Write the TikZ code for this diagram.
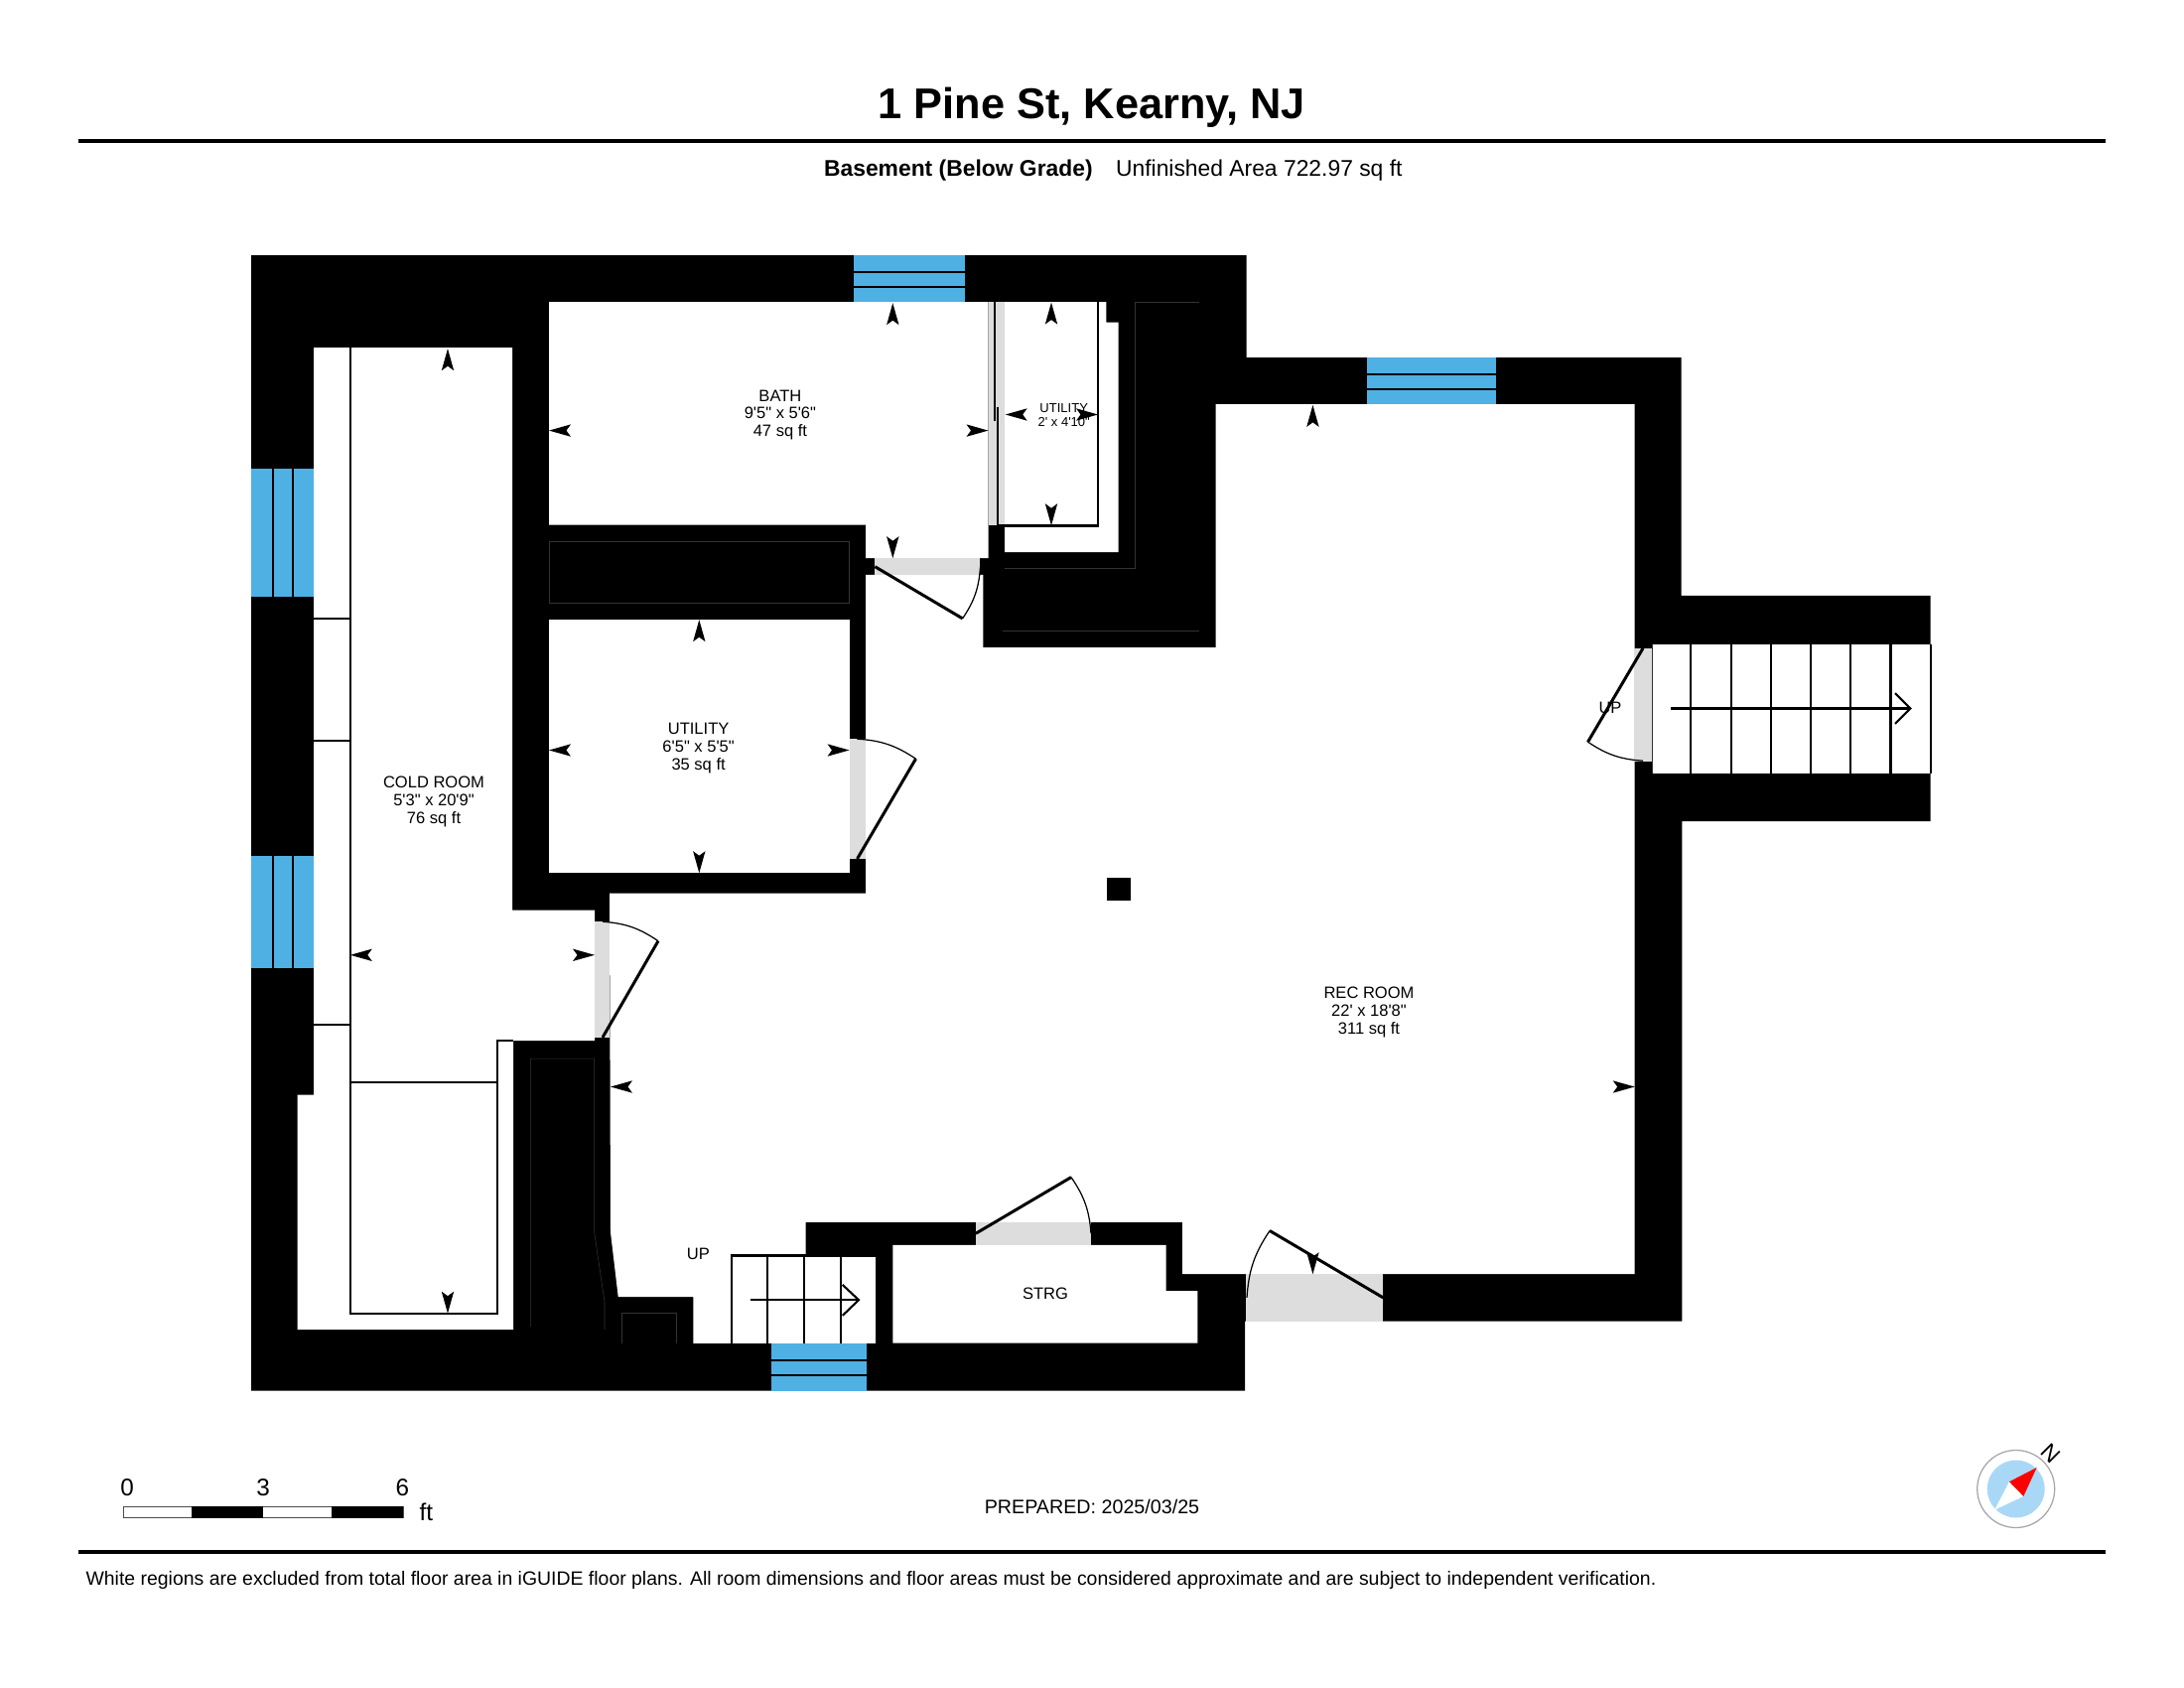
\documentclass[tikz,border=0pt]{standalone}
\usepackage{fontspec}
\setmainfont[Ligatures=TeXOff]{Liberation Sans}

\definecolor{windowblue}{HTML}{4FB0E3}
\definecolor{doorgrey}{HTML}{DDDDDD}
\definecolor{compassblue}{HTML}{A9D8F6}

\tikzset{
	wallfill/.style={fill=black},
	roomfill/.style={fill=white},
	windowfill/.style={fill=windowblue},
	dooropening/.style={fill=doorgrey},
	doorleaf/.style={line width=0.85pt},
	doorarc/.style={line width=0.35pt},
	roomline/.style={line width=0.6pt},
	hairline/.style={line width=0.15pt,draw=black!80},
	roomtext/.style={inner sep=0pt,align=center,font=\fontsize{4.7pt}{5.09pt}\selectfont},
	smalltext/.style={inner sep=0pt,align=center,font=\fontsize{3.7pt}{4.15pt}\selectfont},
	basetext/.style={inner sep=0pt,anchor=base,font=\fontsize{5.6pt}{6pt}\selectfont},
	scaletext/.style={inner sep=0pt,font=\fontsize{6.9pt}{8pt}\selectfont}
}

% tip at (x,y), last argument is the direction in degrees
\newcommand{\dimtip}[3]{\fill[shift={(#1,#2)},rotate=#3] (0,0) -- (-22,-6.2) -- (-17.5,0) -- (-22,6.2) -- cycle;}

\begin{document}
\begin{tikzpicture}[x=0.01cm,y=-0.01cm]
	\useasboundingbox (0,-1.2) rectangle (2200,1698.8);

	% heading
	\node (title) at (1100,118) [inner sep=0pt,anchor=base,font=\fontsize{12.32pt}{14pt}\selectfont\bfseries] {1 Pine St, Kearny, NJ};
	\draw[line width=1.15pt] (79,141) -- (2121,141);
	\node (level) at (829.4,176.7) [inner sep=0pt,anchor=base west,font=\fontsize{6.5pt}{8pt}\selectfont\bfseries] {Basement (Below Grade)};
	\node (area) at (1123.4,176.7) [inner sep=0pt,anchor=base west,font=\fontsize{6.5pt}{8pt}\selectfont] {Unfinished Area 722.97 sq ft};

	% walls
	\fill[wallfill] (253,256) -- (1255.5,256) -- (1255.5,359) -- (1693.5,359) -- (1693.5,598.7) -- (1944.7,598.7) -- (1944.7,826) -- (1694.3,826) -- (1694.3,1329.3) -- (1254,1329.3) -- (1254,1399.3) -- (253,1399.3) -- cycle;

	% rooms
	\fill[roomfill] (316,349) -- (516,349) -- (516,915.5) -- (599,915.5) -- (599,1047) -- (517,1047) -- (517,1338) -- (299.7,1338) -- (299.7,1101.4) -- (316,1101.4) -- cycle;
	\fill[roomfill] (553,303) -- (995.5,303) -- (995.5,561) -- (872,561) -- (872,527.5) -- (553,527.5) -- cycle;
	\fill[roomfill] (553,623) rectangle (855.5,878);
	\fill[roomfill] (1012,303) -- (1114.3,303) -- (1114.3,323.3) -- (1126.7,323.3) -- (1126.7,555) -- (1012,555) -- cycle;
	\fill[roomfill] (1224.5,406) -- (1646.5,406) -- (1646.5,1282) -- (1191,1282) -- (1191,1229.7) -- (811.5,1229.7) -- (811.5,1263) -- (737.4,1263) -- (737.4,1351.6) -- (698.3,1351.6) -- (698.3,1304.8) -- (622.7,1304.8) -- (615,1240) -- (614,898.5) -- (872,898.5) -- (872,577.7) -- (990.3,577.7) -- (990.3,651) -- (1224.5,651) -- cycle;
	\fill[roomfill] (899.3,1252.6) -- (1174.5,1252.6) -- (1174.5,1298.8) -- (1206.4,1298.8) -- (1206.4,1351.5) -- (899.3,1351.5) -- cycle;
	\fill[roomfill] (737.4,1263) rectangle (881.7,1351.6);
	\fill[roomfill] (1664,647.3) rectangle (1944.7,777.7);
	\fill[wallfill] (1114.9,882.4) rectangle (1138.7,906);

	% lines inside the walls
	\draw[hairline] (553,544) rectangle (855,606);
	\draw[hairline] (1012,571) -- (1143.3,571) -- (1143.3,303) -- (1207.7,303);
	\draw[hairline] (1010,634.3) -- (1207.7,634.3);
	\draw[hairline] (534.7,1335) -- (534.7,1065) -- (598.7,1065) -- (598.7,1240) -- (609,1310) -- (609,1338);
	\draw[hairline] (626.7,1351.7) -- (626.7,1321) -- (681.7,1321) -- (681.7,1351.7);

	% windows
	\fill[windowfill] (860,256) rectangle (972,303);
	\foreach \y in {273,288} \draw[roomline] (860,\y) -- (972,\y);
	\fill[windowfill] (1377,359) rectangle (1506.5,406);
	\foreach \y in {375.7,391} \draw[roomline] (1377,\y) -- (1506.5,\y);
	\fill[windowfill] (777,1351.5) rectangle (873,1399.3);
	\foreach \y in {1369,1383.7} \draw[roomline] (777,\y) -- (873,\y);
	\fill[windowfill] (253,471) rectangle (316,600);
	\foreach \x in {275,295} \draw[roomline] (\x,471) -- (\x,600);
	\fill[windowfill] (253,861) rectangle (316,974);
	\foreach \x in {275,295} \draw[roomline] (\x,861) -- (\x,974);

	% door openings
	\fill[dooropening] (995.5,303) rectangle (1012,527.5);
	\fill[dooropening] (881,561) rectangle (987.3,577.7);
	\fill[dooropening] (855.5,743) rectangle (872,864);
	\fill[dooropening] (599,927) rectangle (614,1043.6);
	\fill[dooropening] (983,1229.7) rectangle (1099,1252.6);
	\fill[dooropening] (1255,1282) rectangle (1393.3,1329.3);
	\fill[dooropening] (1646,651.7) rectangle (1663.7,766);

	% door leaves
	\draw[doorleaf] (881.4,569.5) -- (969.6,621.7);
	\draw[doorarc] (969.6,621.7) to[bend right=15] (987.5,569.5);
	\draw[doorleaf] (863.5,863.7) -- (922.5,763);
	\draw[doorarc] (922.5,763) to[bend right=15] (863.5,743);
	\draw[doorleaf] (607,1043.6) -- (663,946.5);
	\draw[doorarc] (663,946.5) to[bend right=15] (607,927);
	\draw[doorleaf] (983,1241) -- (1079,1184.4);
	\draw[doorarc] (1099,1241) to[bend right=15] (1079,1184.4);
	\draw[doorleaf] (1393.3,1305.7) -- (1279,1238.3);
	\draw[doorarc] (1279,1238.3) to[bend right=15] (1256,1305.7);
	\draw[doorleaf] (1655,651.7) -- (1599.5,746);
	\draw[doorarc] (1599.5,746) to[bend right=15] (1655,765);

	% cold room lines
	\draw[roomline] (353,349) -- (353,1321.5) -- (501,1321.5) -- (501,1047) -- (517,1047);
	\draw[roomline] (353,1088.7) -- (501,1088.7);
	\foreach \y in {622,745,1030.8} \draw[roomline] (316,\y) -- (353,\y);

	% utility closet lines
	\draw[roomline] (1001.7,303) -- (1001.7,422.7);
	\draw[roomline] (1005,409) -- (1005,528.3) -- (1106.3,528.3) -- (1106.3,303);

	% stairs
	\draw[roomline] (737.4,1351.6) -- (737.4,1263.3) -- (881.7,1263.3);
	\foreach \x in {773.3,809.7,846.7} \draw[roomline] (\x,1263.3) -- (\x,1351.6);
	\draw[roomline] (756,1308) -- (865,1308);
	\draw[roomline] (848.7,1292.7) -- (865,1308) -- (848.7,1323.7);
	\draw[hairline] (1664,647.3) -- (1664,777.7);
	\foreach \x in {1703,1744,1783.6,1823.9,1864.2,1904.5,1944.7} \draw[roomline] (\x,647.3) -- (\x,777.7);
	\draw[roomline] (1683,712.3) -- (1924.4,712.3);
	\draw[roomline] (1909,697) -- (1924.4,712.3) -- (1909,727.7);

	% room labels
	\node (coldlabel) at (437,806.4) [roomtext] {COLD ROOM\\5'3" x 20'9"\\76 sq ft};
	\node (bathlabel) at (785.9,416.8) [roomtext] {BATH\\9'5" x 5'6"\\47 sq ft};
	\node (utilitylabel) at (703.6,752.1) [roomtext] {UTILITY\\6'5" x 5'5"\\35 sq ft};
	\node (closetlabel) at (1071.7,416.7) [smalltext] {UTILITY\\2' x 4'10"};
	\node (reclabel) at (1379,1017.9) [roomtext] {REC ROOM\\22' x 18'8"\\311 sq ft};
	\node (strglabel) at (1053,1302) [roomtext] {STRG};
	\node (uplower) at (703.3,1262) [roomtext] {UP};
	\node (upright) at (1622,711.7) [roomtext] {UP};

	% dimension tips
	\dimtip{451}{350}{90}
	\dimtip{451}{1321.5}{270}
	\dimtip{352.8}{960.6}{180}
	\dimtip{599}{960.6}{0}
	\dimtip{899.3}{304}{90}
	\dimtip{899.3}{561}{270}
	\dimtip{553}{432.4}{180}
	\dimtip{995.5}{432.4}{0}
	\dimtip{704.3}{623}{90}
	\dimtip{704.3}{878}{270}
	\dimtip{553}{754.3}{180}
	\dimtip{855.5}{754.3}{0}
	\dimtip{1059}{303.4}{90}
	\dimtip{1059}{528}{270}
	\dimtip{1012.7}{416.3}{180}
	\dimtip{1106}{416.3}{0}
	\dimtip{1322.4}{406.7}{90}
	\dimtip{1322.4}{1282}{270}
	\dimtip{615}{1093.3}{180}
	\dimtip{1646.7}{1093.3}{0}

	% scale bar
	\draw[line width=0.3pt,draw=black!70,fill=white] (124.3,1516) rectangle (406,1527.3);
	\fill[wallfill] (193,1516) rectangle (265.3,1527.3);
	\fill[wallfill] (333.7,1516) rectangle (406,1527.3);
	\node (scalezero) at (128,1497) [scaletext] {0};
	\node (scalethree) at (265,1497) [scaletext] {3};
	\node (scalesix) at (405.3,1497) [scaletext] {6};
	\node (scaleunit) at (429.3,1521.7) [scaletext] {ft};

	% prepared date
	\node (prepared) at (1100,1523.3) [basetext] {PREPARED: 2025/03/25};

	% compass
	\draw[line width=0.35pt,draw=black!35,fill=white] (2030.7,1498.3) circle [radius=39];
	\fill[compassblue] (2030.7,1498.3) circle [radius=29];
	\fill[white] (2024,1491) -- (2038.3,1505.7) -- (2009.3,1519.3) -- cycle;
	\fill[red] (2051.7,1476.7) -- (2024,1491) -- (2038.3,1505.7) -- cycle;
	\node (north) at (2066,1462.7) [inner sep=0pt,rotate=-45,font=\fontsize{6.5pt}{7pt}\selectfont] {N};

	% footer
	\draw[line width=1.15pt] (79,1562) -- (2121,1562);
	\node (disclaimer) at (85.9,1595.5) [inner sep=0pt,anchor=base west,font=\fontsize{5.525pt}{6pt}\selectfont] {White regions are excluded from total floor area in iGUIDE floor plans. All room dimensions and floor areas must be considered approximate and are subject to independent verification.};
\end{tikzpicture}
\end{document}
